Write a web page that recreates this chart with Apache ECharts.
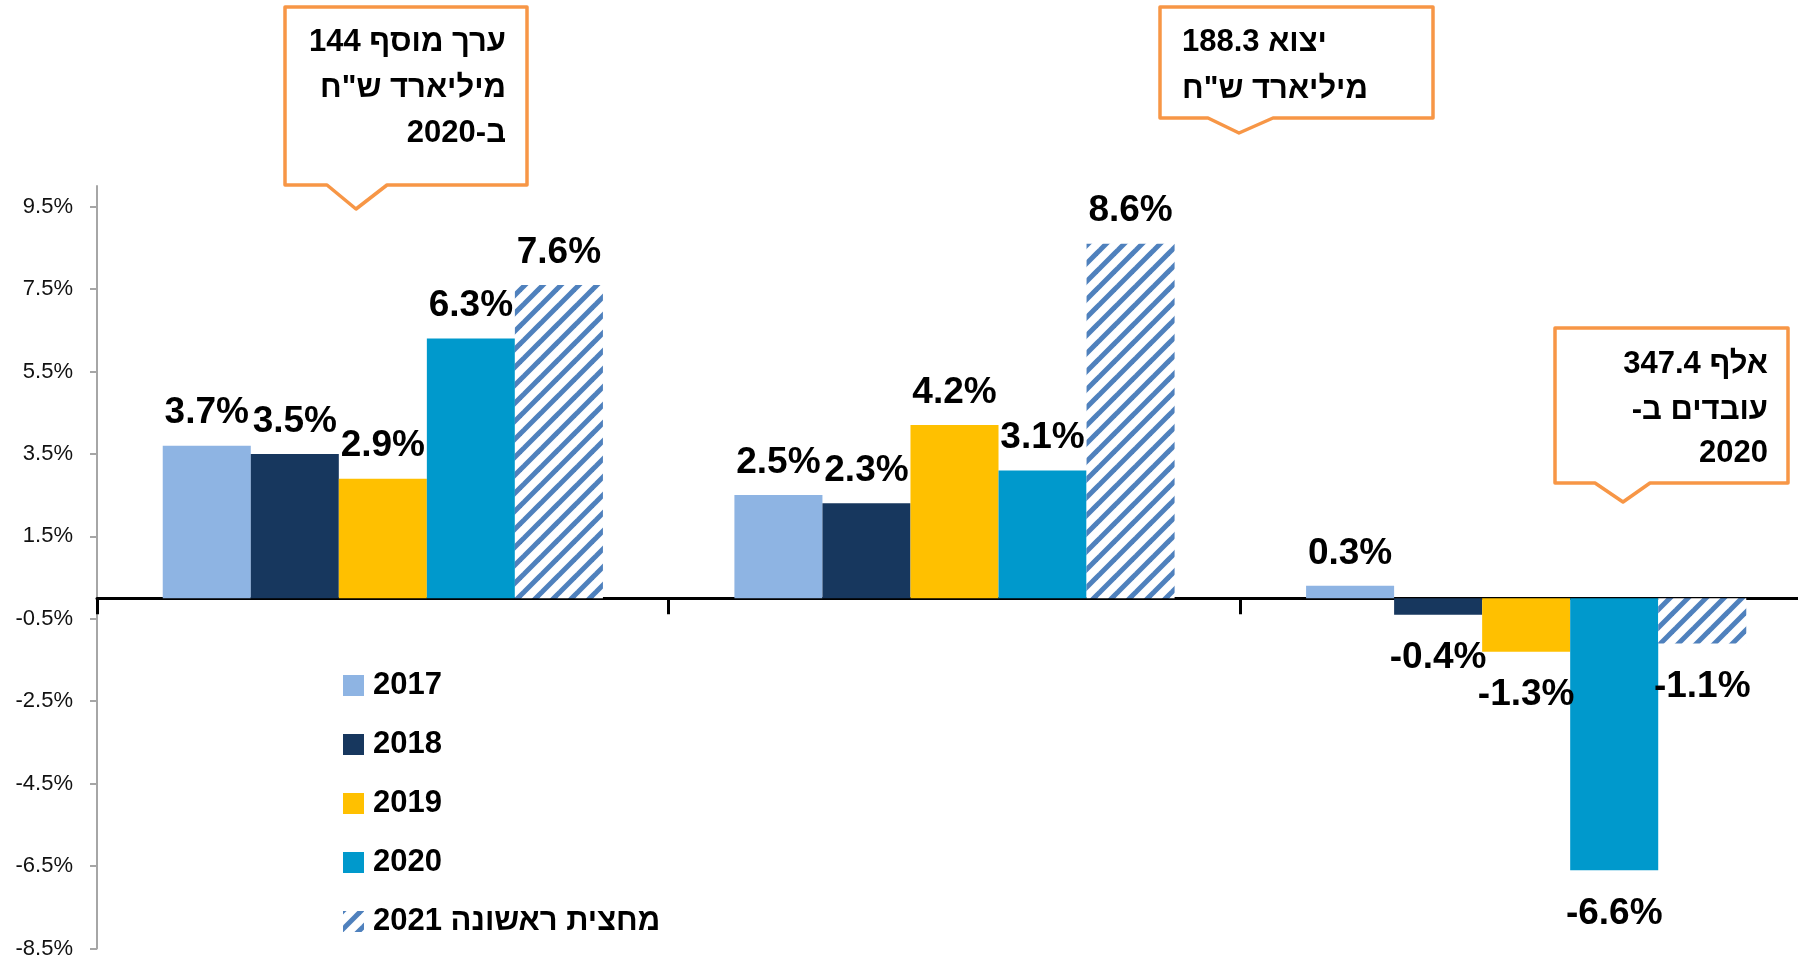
<!DOCTYPE html>
<html>
<head>
<meta charset="utf-8">
<script src="https://cdn.jsdelivr.net/npm/echarts@6/dist/echarts.min.js"></script>
<style>
  html, body { margin: 0; padding: 0; background: #fff; }
  #chart { width: 1798px; height: 961px; }
</style>
</head>
<body>
<div id="chart"></div>
<script>
// data
const groups = ['ערך מוסף', 'יצוא', 'מועסקים'];
const years = ['2017', '2018', '2019', '2020', 'מחצית ראשונה 2021'];
const v2017 = [3.7, 2.5, 0.3];
const v2018 = [3.5, 2.3, -0.4];
const v2019 = [2.9, 4.2, -1.3];
const v2020 = [6.3, 3.1, -6.6];
const v2021 = [7.6, 8.6, -1.1];
const yTicks = [-8.5, -6.5, -4.5, -2.5, -0.5, 1.5, 3.5, 5.5, 7.5, 9.5];

const FONT = '"Liberation Sans", Arial, sans-serif';
const ORANGE = '#F79646';
const RLM = '\u200F'; // keeps the trailing dash on the hebrew side

// diagonal stripes for the 2021 half-year bars
function hatch() {
  const s = 18;
  const c = document.createElement('canvas');
  c.width = c.height = s;
  const ctx = c.getContext('2d');
  ctx.fillStyle = '#fff';
  ctx.fillRect(0, 0, s, s);
  ctx.strokeStyle = '#4F81BD';
  ctx.lineWidth = 5;
  [0, s, 2 * s].forEach(k => {
    ctx.beginPath();
    ctx.moveTo(-s, k + s);
    ctx.lineTo(k + s, -s);
    ctx.stroke();
  });
  return { image: c, repeat: 'repeat' };
}

const colors = ['#8EB4E3', '#17375E', '#FFC000', '#0099CC', hatch()];

function item(v) {
  return {
    value: v,
    label: v < 0 ? { position: 'bottom', distance: 25 } : { position: 'top', distance: 14 }
  };
}

const series = [v2017, v2018, v2019, v2020, v2021].map((vals, i) => ({
  name: years[i],
  type: 'bar',
  barGap: '0%',
  barCategoryGap: '23%',
  itemStyle: { color: colors[i] },
  label: {
    show: true,
    fontFamily: FONT,
    fontWeight: 'bold',
    fontSize: 37,
    color: '#000',
    formatter: p => p.value.toFixed(1) + '%'
  },
  data: vals.map(item)
}));

// orange speech-bubble boxes
function callout(l, t, r, b, p1, p2, tipX, tipY) {
  return {
    type: 'polygon',
    z: 10,
    shape: { points: [[l, t], [r, t], [r, b], [p2, b], [tipX, tipY], [p1, b], [l, b]] },
    style: { fill: '#fff', stroke: ORANGE, lineWidth: 3.5, lineJoin: 'round' }
  };
}
function txt(x, y, text, align) {
  return {
    type: 'text', z: 11, x: x, y: y,
    style: {
      text: text, fill: '#000', align: align, verticalAlign: 'middle',
      fontFamily: FONT, fontWeight: 'bold', fontSize: 31
    }
  };
}

const chart = echarts.init(document.getElementById('chart'));
chart.setOption({
  animation: false,
  backgroundColor: '#fff',
  grid: { left: 97, right: -14, top: 186, bottom: 12.5, outerBoundsMode: 'none' },
  legend: {
    orient: 'vertical',
    left: 343,
    top: 670,
    padding: 0,
    icon: 'rect',
    itemWidth: 21,
    itemHeight: 21,
    itemGap: 28,
    textStyle: { fontFamily: FONT, fontWeight: 'bold', fontSize: 31, color: '#000', padding: [0, 0, 0, 4] },
    data: years
  },
  xAxis: {
    type: 'category',
    data: groups,
    axisLine: { onZero: true, lineStyle: { color: '#000', width: 3 } },
    axisTick: { show: true, length: 16, lineStyle: { color: '#000', width: 3 } },
    axisLabel: { show: false }
  },
  yAxis: {
    type: 'value',
    min: -8.5,
    max: 10,
    splitLine: { show: false },
    axisLine: { show: true, lineStyle: { color: '#A6A6A6', width: 2 } },
    axisTick: { show: true, length: 7, customValues: yTicks, lineStyle: { color: '#A6A6A6', width: 2 } },
    axisLabel: {
      customValues: yTicks,
      margin: 24,
      fontFamily: FONT,
      fontSize: 22,
      color: '#111',
      formatter: v => v.toFixed(1) + '%'
    }
  },
  series: series,
  graphic: [
    callout(285, 7, 527, 185, 327, 387, 356, 209),
    txt(506, 42, 'ערך מוסף 144', 'right'),
    txt(506, 88, 'מיליארד ש"ח', 'right'),
    txt(506, 133, 'ב-2020', 'right'),
    callout(1160, 7, 1433, 118, 1208, 1273, 1239, 133),
    txt(1182, 42, 'יצוא 188.3', 'left'),
    txt(1182, 89, 'מיליארד ש"ח', 'left'),
    callout(1555, 328, 1788, 483, 1595, 1650, 1623, 502),
    txt(1768, 364, '347.4 אלף', 'right'),
    txt(1768, 410, 'עובדים ב-' + RLM, 'right'),
    txt(1768, 453, '2020', 'right')
  ]
});
</script>
</body>
</html>
